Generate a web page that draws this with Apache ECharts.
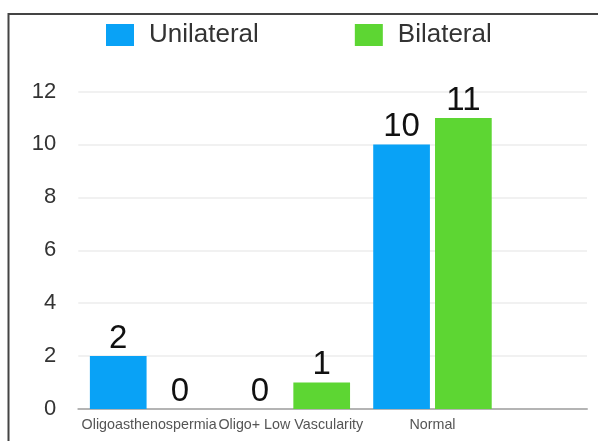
<!DOCTYPE html>
<html>
<head>
<meta charset="utf-8">
<script src="https://cdn.jsdelivr.net/npm/echarts@6/dist/echarts.min.js"></script>
<style>
  html, body { margin: 0; padding: 0; background: #fff; }
  #chart { width: 598px; height: 441px; }
</style>
</head>
<body>
<div id="chart"></div>
<script>
// Findings grouped by diagnosis
const categories = ['Oligoasthenospermia', 'Oligo+ Low Vascularity', 'Normal'];
const unilateral = [2, 0, 10];
const bilateral = [0, 1, 11];
const seriesNames = ['Unilateral', 'Bilateral'];
const yTicks = { min: 0, max: 12, interval: 2 };

const FONT = '"Liberation Sans", Arial, Helvetica, sans-serif';
const BLUE = '#09a2f6';
const GREEN = '#5dd633';

const chart = echarts.init(document.getElementById('chart'), null, { renderer: 'canvas' });

const valueLabel = {
  show: true,
  position: 'top',
  distance: 1,
  fontSize: 33,
  fontFamily: FONT,
  color: '#111'
};

chart.setOption({
  animation: false,
  backgroundColor: '#fff',
  graphic: [{
    type: 'rect',
    shape: { x: 8.5, y: 14, width: 640, height: 480 },
    style: { fill: 'none', stroke: '#444', lineWidth: 2 },
    silent: true,
    z: 0
  }],
  legend: {
    left: 106,
    top: 22,
    padding: 0,
    itemWidth: 28,
    itemHeight: 22,
    itemGap: 96,
    icon: 'rect',
    data: seriesNames,
    textStyle: { fontSize: 26, fontFamily: FONT, color: '#333', padding: [0, 0, 0, 10] }
  },
  grid: [
    // full-width frame: gridlines, y labels and baseline
    { left: 78.3, right: 11, top: 91.5, bottom: 32 },
    // bar area
    { left: 78.3, width: 425, top: 91.5, bottom: 32 }
  ],
  xAxis: [
    {
      gridIndex: 0, type: 'value', min: 0, max: 1,
      axisLabel: { show: false }, axisTick: { show: false }, splitLine: { show: false },
      axisLine: { show: true, lineStyle: { color: '#b4b4b4', width: 2 } }
    },
    {
      gridIndex: 1, type: 'category', data: categories,
      axisLine: { show: false }, axisTick: { show: false },
      axisLabel: { interval: 0, margin: 9, fontSize: 14.3, fontFamily: FONT, color: '#555' }
    }
  ],
  yAxis: [
    {
      gridIndex: 0, type: 'value', min: yTicks.min, max: yTicks.max, interval: yTicks.interval,
      axisLine: { show: false }, axisTick: { show: false },
      axisLabel: { margin: 22, fontSize: 22, fontFamily: FONT, color: '#333' },
      splitLine: { lineStyle: { color: '#ececec', width: 1.5 } }
    },
    {
      gridIndex: 1, type: 'value', min: yTicks.min, max: yTicks.max, interval: yTicks.interval,
      show: false
    }
  ],
  series: [
    {
      name: seriesNames[0], type: 'bar', xAxisIndex: 1, yAxisIndex: 1,
      data: unilateral, barWidth: 56.7, barGap: '9%',
      itemStyle: { color: BLUE }, label: valueLabel, z: 3
    },
    {
      name: seriesNames[1], type: 'bar', xAxisIndex: 1, yAxisIndex: 1,
      data: bilateral, barWidth: 56.7, barGap: '9%',
      itemStyle: { color: GREEN }, label: valueLabel, z: 3
    }
  ]
});
</script>
</body>
</html>
